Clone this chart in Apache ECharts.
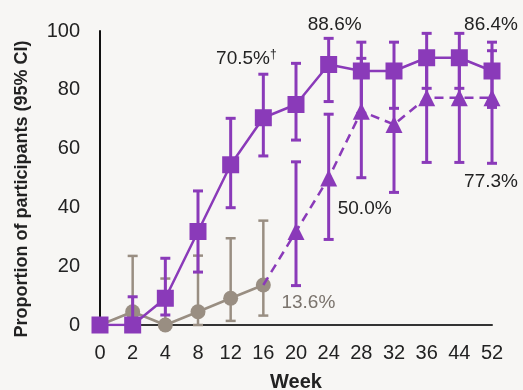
<!DOCTYPE html>
<html>
<head>
<meta charset="utf-8">
<script src="https://cdn.jsdelivr.net/npm/echarts@6/dist/echarts.min.js"></script>
<style>
  html, body { margin: 0; padding: 0; background: #f7f6f4; }
  #chart { width: 523px; height: 390px; }
</style>
</head>
<body>
<div id="chart"></div>
<script>
// Study weeks on the x axis
const weeks = ['0', '2', '4', '8', '12', '16', '20', '24', '28', '32', '36', '44', '52'];

// Group A (solid purple, squares): proportion and 95% CI
const groupA = [0, 0, 9.1, 31.8, 54.5, 70.5, 75.0, 88.6, 86.4, 86.4, 90.9, 90.9, 86.4];
const groupALow = [null, 0, 3.4, 18.0, 39.9, 57.5, 62.9, 76.0, 72.0, 73.7, 80.5, 80.5, 74.0];
const groupAHigh = [null, 9.6, 22.7, 45.6, 70.3, 85.3, 89.0, 97.5, 96.2, 96.2, 99.2, 99.2, 96.2];

// Group B (dashed purple, triangles), continues from week 16
const groupB = [null, null, null, null, null, 13.6, 31.8, 50.0, 72.7, 68.2, 77.3, 77.3, 77.3];
const groupBLow = [null, null, null, null, null, null, 13.4, 29.1, 50.1, 45.1, 55.3, 55.3, 55.0];
const groupBHigh = [null, null, null, null, null, null, 55.5, 71.7, 90.7, 86.0, 92.0, 92.0, 93.3];

// Group C (grey, circles), up to week 16
const groupC = [0, 4.5, 0, 4.5, 9.1, 13.6, null, null, null, null, null, null, null];
const groupCLow = [null, 0, 0, 0, 1.4, 3.2, null, null, null, null, null, null, null];
const groupCHigh = [null, 23.5, 15.8, 23.6, 29.5, 35.5, null, null, null, null, null, null, null];

// Value axis ticks
const yTicks = [0, 20, 40, 60, 80, 100];

const PURPLE = '#8a3ab9';
const GREY = '#998e82';
const INK = '#222222';

function ciRows(low, high) {
  const rows = [];
  low.forEach((l, i) => {
    if (l !== null && high[i] !== null) rows.push([i, l, high[i]]);
  });
  return rows;
}

function errorBars(name, low, high, color, width, z) {
  return {
    type: 'custom',
    name: name,
    z: z,
    silent: true,
    data: ciRows(low, high),
    encode: { x: 0, y: [1, 2] },
    renderItem: function (params, api) {
      const lo = api.coord([api.value(0), api.value(1)]);
      const hi = api.coord([api.value(0), api.value(2)]);
      const half = 5;
      const style = { stroke: color, lineWidth: width, fill: null };
      return {
        type: 'group',
        children: [
          { type: 'line', shape: { x1: lo[0], y1: lo[1], x2: hi[0], y2: hi[1] }, style: style },
          { type: 'line', shape: { x1: hi[0] - half, y1: hi[1], x2: hi[0] + half, y2: hi[1] }, style: style },
          { type: 'line', shape: { x1: lo[0] - half, y1: lo[1], x2: lo[0] + half, y2: lo[1] }, style: style }
        ]
      };
    }
  };
}

function valueLabel(text, dx, dy, color) {
  return {
    show: true,
    position: 'inside',
    offset: [dx, dy],
    formatter: text,
    color: color,
    fontSize: 19,
    fontFamily: 'Liberation Sans, Arial, sans-serif',
    rich: {
      dag: { fontSize: 12, color: color, verticalAlign: 'top', padding: [0, 0, 8, 0] }
    }
  };
}

// Per-point data with value labels on selected weeks
const groupAData = groupA.map((v, i) => {
  if (i === 5) return { value: v, label: valueLabel('70.5%{dag|†}', -17, -59, INK) };
  if (i === 7) return { value: v, label: valueLabel('88.6%', 6, -40, INK) };
  if (i === 12) return { value: v, label: valueLabel('86.4%', -1, -46, INK) };
  return v;
});
const groupBData = groupB.map((v, i) => {
  if (i === 5) return { value: v, symbol: 'none' };
  if (i === 7) return { value: v, label: valueLabel('50.0%', 36, 31, INK) };
  if (i === 12) return { value: v, label: valueLabel('77.3%', -1, 84, INK) };
  return v;
});
const groupCData = groupC.map((v, i) => {
  if (i === 5) return { value: v, label: valueLabel('13.6%', 45, 18, '#7a736c') };
  return v;
});

const chart = echarts.init(document.getElementById('chart'), null, { renderer: 'canvas' });

chart.setOption({
  backgroundColor: '#f7f6f4',
  animation: false,
  grid: { left: 100, right: 31, top: 31, bottom: 65, containLabel: false, outerBoundsMode: 'none' },
  xAxis: {
    type: 'category',
    data: weeks,
    boundaryGap: false,
    name: 'Week',
    nameLocation: 'middle',
    nameGap: 47,
    nameTextStyle: { fontSize: 20, fontWeight: 'bold', color: INK, fontFamily: 'Liberation Sans, Arial, sans-serif' },
    axisLine: { lineStyle: { color: '#333333', width: 2 } },
    axisTick: { show: false },
    axisLabel: { fontSize: 20, color: INK, margin: 18, fontFamily: 'Liberation Sans, Arial, sans-serif', interval: 0 },
    splitLine: { show: false }
  },
  yAxis: {
    type: 'value',
    min: yTicks[0],
    max: yTicks[yTicks.length - 1],
    interval: yTicks[1] - yTicks[0],
    axisLine: { show: true, lineStyle: { color: '#111111', width: 2 } },
    axisTick: { show: false },
    axisLabel: { fontSize: 20, color: INK, margin: 20, fontFamily: 'Liberation Sans, Arial, sans-serif' },
    splitLine: { show: false }
  },
  graphic: [{
    type: 'text',
    x: 22,
    y: 189,
    rotation: Math.PI / 2,
    style: {
      text: 'Proportion of participants (95% CI)',
      fontSize: 18,
      fontWeight: 'bold',
      fill: INK,
      fontFamily: 'Liberation Sans, Arial, sans-serif',
      align: 'center',
      verticalAlign: 'middle'
    }
  }],
  series: [
    errorBars('C CI', groupCLow, groupCHigh, GREY, 2.5, 1),
    {
      type: 'line',
      name: 'Group C',
      data: groupCData,
      z: 2,
      symbol: 'circle',
      symbolSize: 15,
      itemStyle: { color: GREY },
      lineStyle: { color: GREY, width: 2.5 },
      label: { show: false }
    },
    errorBars('A CI', groupALow, groupAHigh, PURPLE, 3, 3),
    errorBars('B CI', groupBLow, groupBHigh, PURPLE, 3, 3),
    {
      type: 'line',
      name: 'Group A',
      data: groupAData,
      z: 4,
      symbol: 'rect',
      symbolSize: 17,
      itemStyle: { color: PURPLE },
      lineStyle: { color: PURPLE, width: 2.5 },
      label: { show: false }
    },
    {
      type: 'line',
      name: 'Group B',
      data: groupBData,
      z: 5,
      symbol: 'triangle',
      symbolSize: 17,
      itemStyle: { color: PURPLE },
      lineStyle: { color: PURPLE, width: 2.5, type: [9, 6] },
      label: { show: false }
    }
  ]
});
</script>
</body>
</html>
